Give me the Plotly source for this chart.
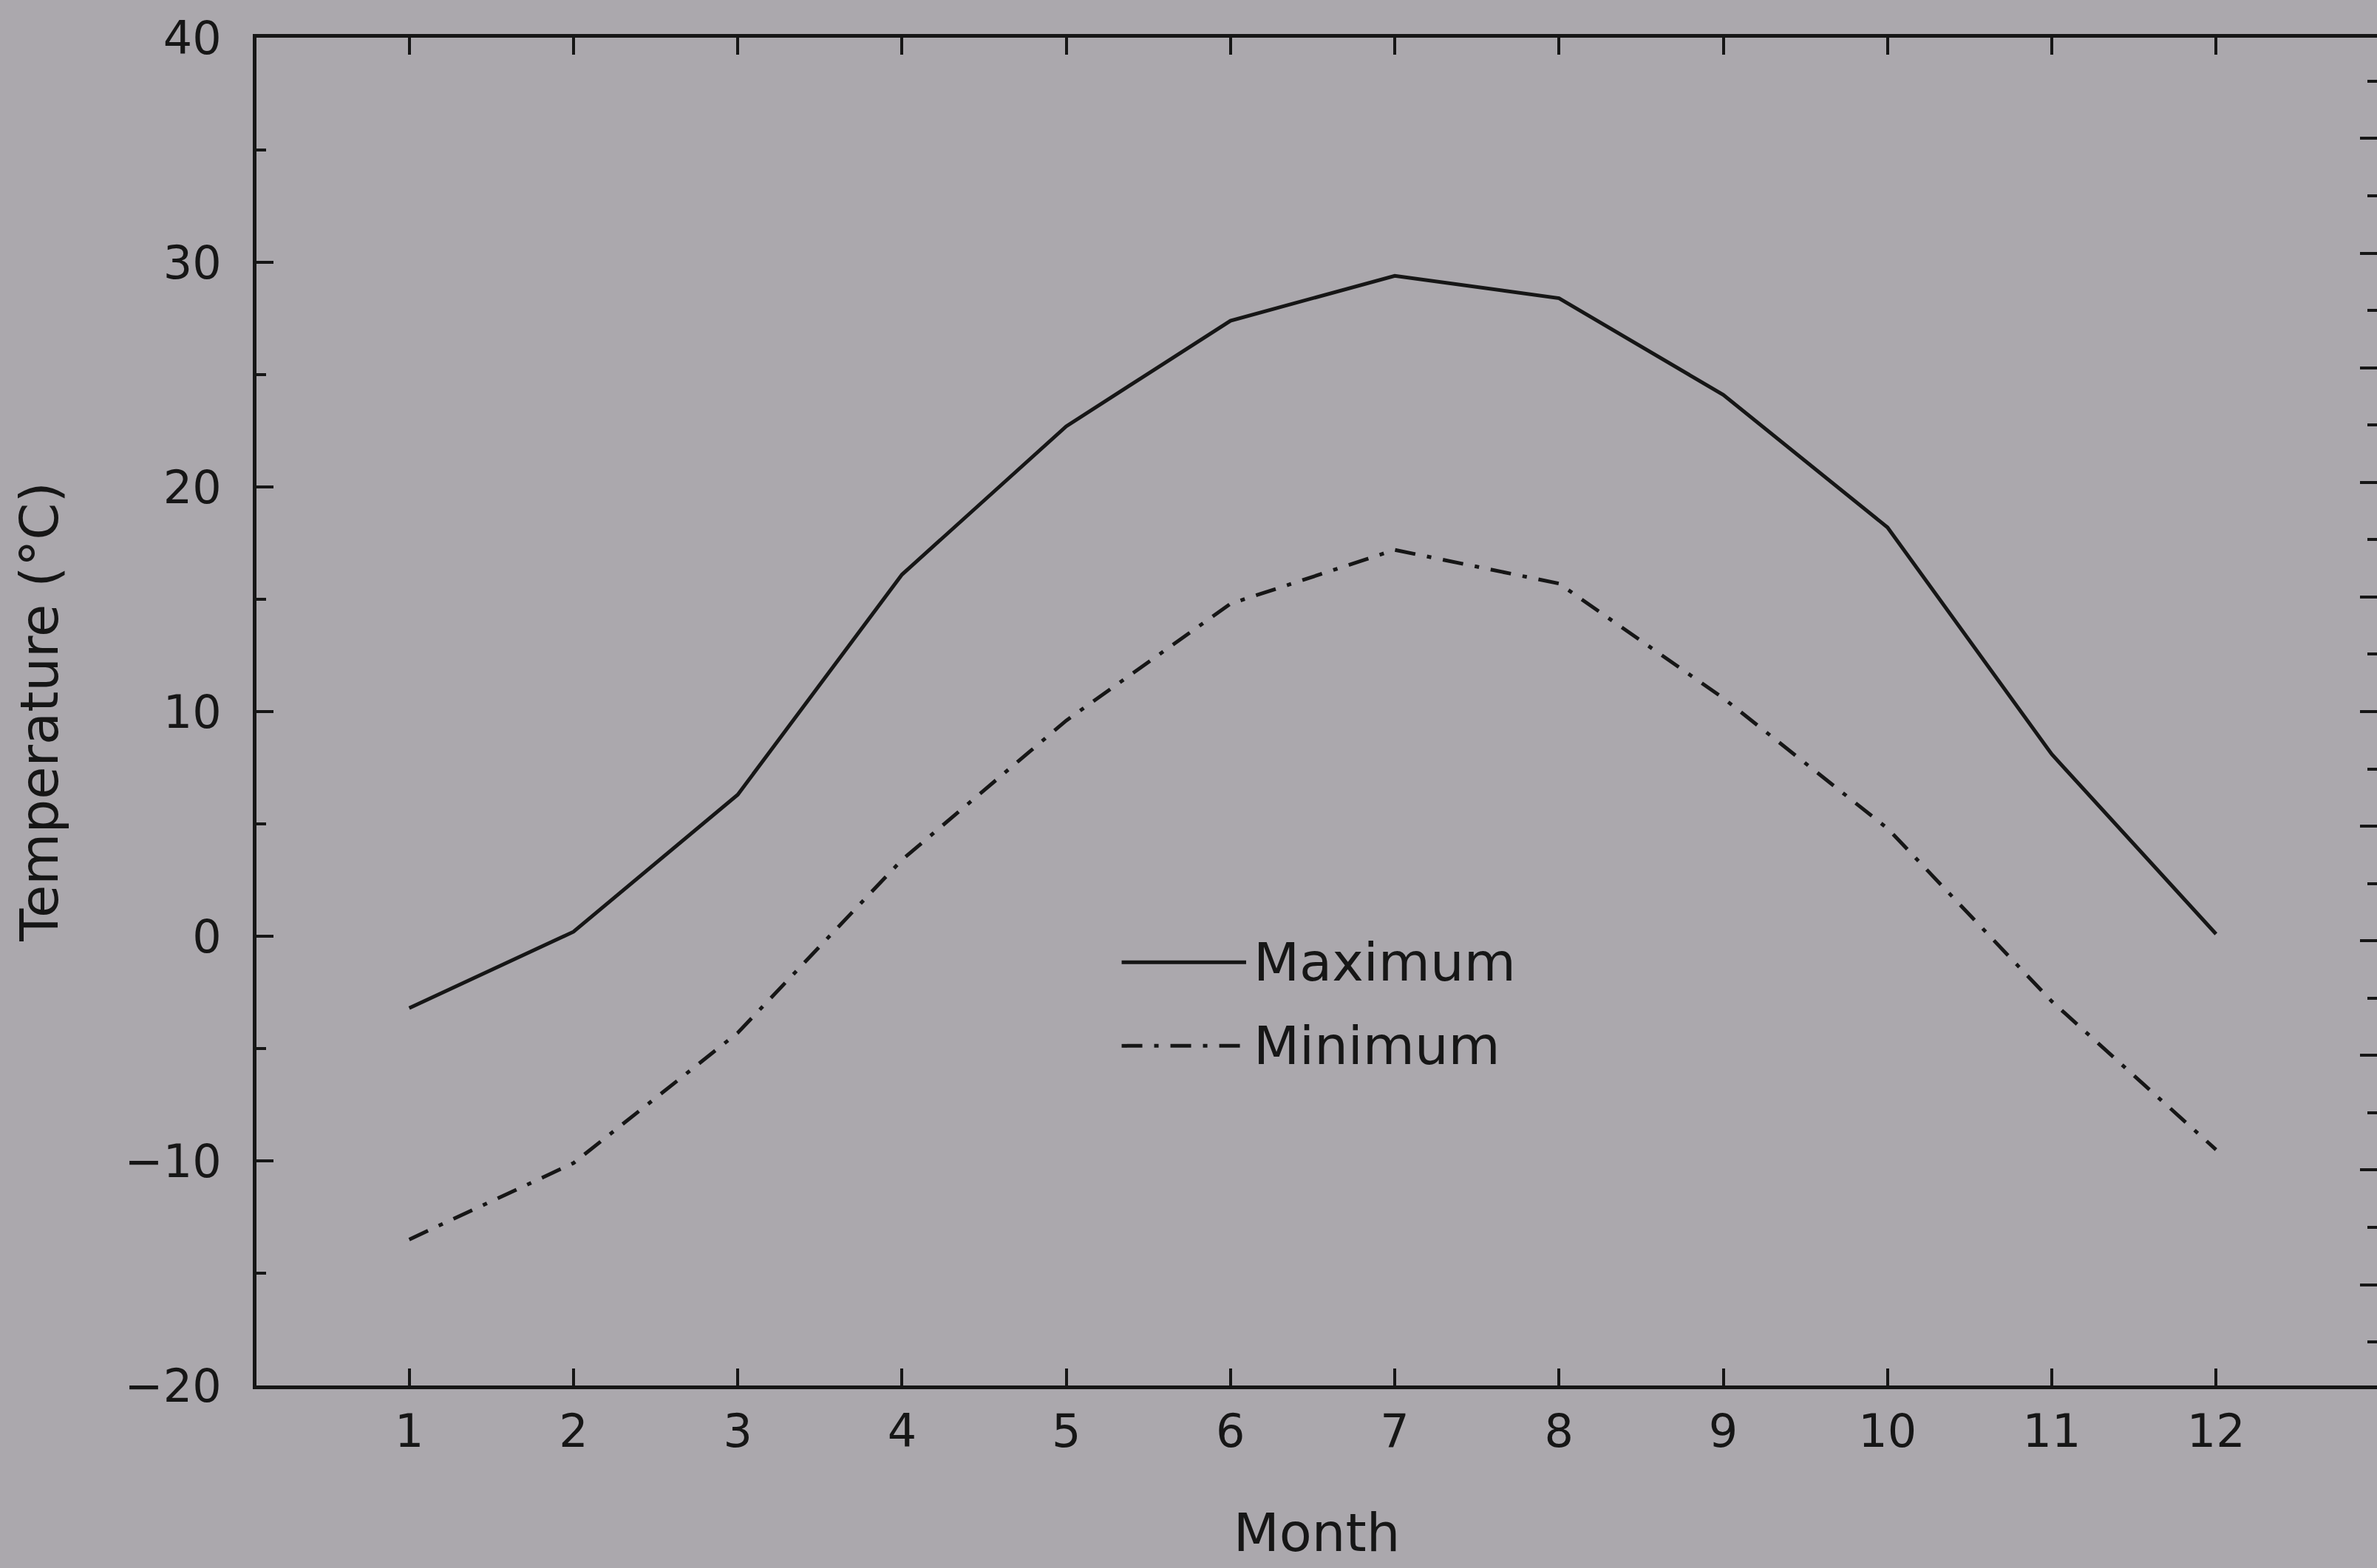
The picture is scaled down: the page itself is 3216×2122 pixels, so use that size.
import plotly.graph_objects as go

months = [1, 2, 3, 4, 5, 6, 7, 8, 9, 10, 11, 12]
t_max = [-3.2, 0.2, 6.3, 16.1, 22.7, 27.4, 29.4, 28.4, 24.1, 18.2, 8.1, 0.1]
t_min = [-13.5, -10.1, -4.3, 3.4, 9.6, 14.8, 17.2, 15.7, 10.6, 4.8, -2.9, -9.5]
x_ticks = months
y_ticks = [-20, -10, 0, 10, 20, 30, 40]
series_names = ["Maximum", "Minimum"]

BG = "#aba8ad"
INK = "#161616"
FONT = "'DejaVu Sans', sans-serif"
DASHDOT = "28px,16px,6px,16px"

fig = go.Figure()
fig.add_trace(go.Scatter(x=months, y=t_max, mode="lines", name=series_names[0],
                         line=dict(color=INK, width=5), showlegend=False))
fig.add_trace(go.Scatter(x=months, y=t_min, mode="lines", name=series_names[1],
                         line=dict(color=INK, width=5, dash=DASHDOT), showlegend=False))
# empty trace to activate the right-hand (secondary) axis whose labels are outside the view
fig.add_trace(go.Scatter(x=[None], y=[None], yaxis="y2", showlegend=False, hoverinfo="skip"))

tick_common = dict(ticks="inside", tickwidth=4, tickcolor=INK, linecolor=INK, linewidth=5,
                   showgrid=False, zeroline=False)

fig.update_layout(
    width=3216, height=2122,
    paper_bgcolor=BG, plot_bgcolor=BG,
    margin=dict(l=347, r=0, t=51, b=247),
    font=dict(family=FONT, color=INK, size=62),
    xaxis=dict(range=[0.07, 12.98], tickvals=x_ticks, ticklen=23, showline=True, mirror="ticks",
               tickfont=dict(size=62), ticklabelstandoff=4,
               title=dict(text="Month", font=dict(size=72), standoff=78),
               **tick_common),
    yaxis=dict(range=[-20, 40], tickvals=y_ticks, ticklen=23, showline=True, mirror=False,
               minor=dict(dtick=5, ticks="inside", ticklen=13, tickwidth=4, tickcolor=INK, showgrid=False),
               tickfont=dict(size=62), ticklabelstandoff=30,
               title=dict(text="Temperature (°C)", font=dict(size=72), standoff=68),
               **tick_common),
    yaxis2=dict(overlaying="y", side="right", anchor="x", range=[-8.8, 108.8], dtick=10,
                ticks="inside", ticklen=23, tickwidth=4, tickcolor=INK, showline=False,
                showticklabels=False, showgrid=False, zeroline=False,
                minor=dict(dtick=5, ticks="inside", ticklen=13, tickwidth=4, tickcolor=INK, showgrid=False)),
)

# in-plot legend (sample line + label)
legend_rows = [(series_names[0], "solid", 0.314), (series_names[1], DASHDOT, 0.252)]
for name, dash, yp in legend_rows:
    fig.add_shape(type="line", xref="paper", yref="paper", x0=0.408, x1=0.4667, y0=yp, y1=yp,
                  line=dict(color=INK, width=5, dash=dash))
    fig.add_annotation(xref="paper", yref="paper", x=0.4695, y=yp, text=name, showarrow=False,
                       xanchor="left", yanchor="middle", font=dict(size=72, color=INK, family=FONT))

fig.write_html("out.html", config={"displayModeBar": False},
               post_script="document.body.style.margin='0';document.body.style.background='%s';" % BG)
